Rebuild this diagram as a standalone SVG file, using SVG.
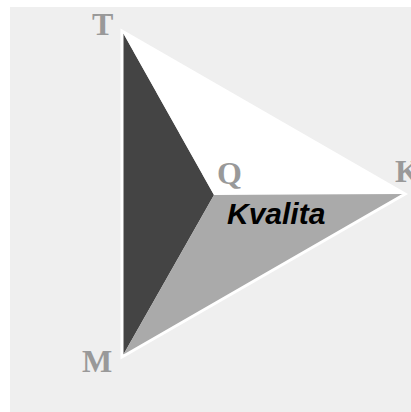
<svg xmlns="http://www.w3.org/2000/svg" width="411" height="412" viewBox="0 0 411 412">
<style>
.lbl{font-family:"Liberation Serif",serif;font-weight:bold;font-size:32px;fill:#999}
.face{stroke:none}
</style>
<rect x="0" y="0" width="411" height="412" fill="#fff"/>
<rect x="10" y="7" width="401" height="405" fill="#efefef"/>
<g id="pyramid">
<polygon id="faceT" class="face" points="122,31 214,195 122,357" fill="#444"/>
<polygon id="faceK" class="face" points="122,31 405,194 214,195" fill="#fff"/>
<polygon id="faceM" class="face" points="214,195 405,194 122,357" fill="#aaa"/>
<polygon points="122,31 405,194 122,357" fill="none" stroke="#fff" stroke-width="3" stroke-linejoin="miter"/>
</g>
<g id="T"><text class="lbl" x="92" y="35">T</text></g>
<g id="Q"><text class="lbl" x="217" y="184">Q</text></g>
<g id="K"><text class="lbl" x="395" y="182">K</text></g>
<g id="M"><text class="lbl" x="82" y="372">M</text></g>
<g id="kvalita"><text x="227" y="224" font-family="Liberation Sans,Arial,sans-serif" font-weight="bold" font-style="italic" font-size="30" fill="#000">Kvalita</text></g>
</svg>
